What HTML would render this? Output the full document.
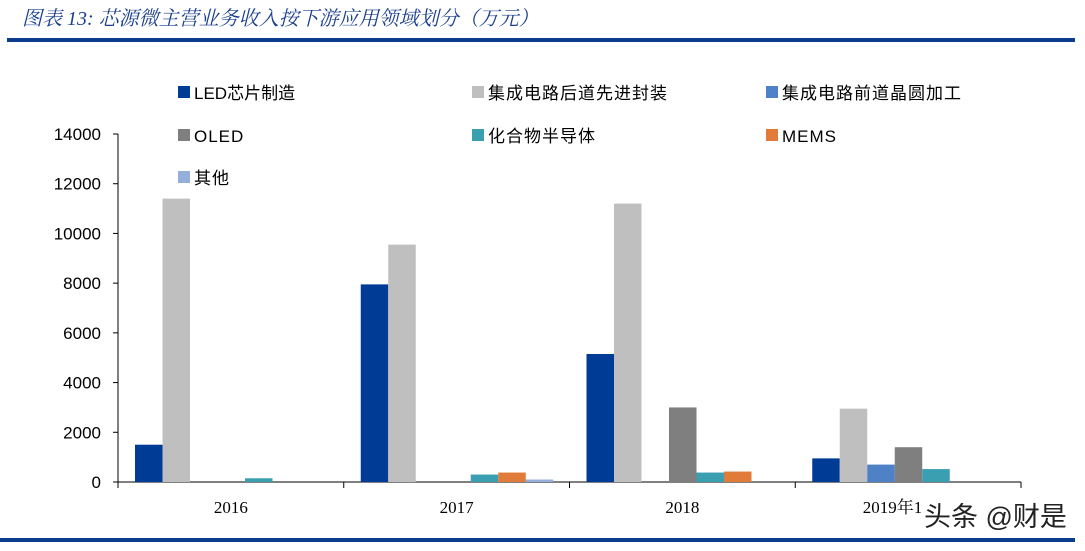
<!DOCTYPE html>
<html><head><meta charset="utf-8">
<style>
body{margin:0;background:#fff;width:1085px;height:546px;overflow:hidden;font-family:"Liberation Sans","Noto Sans CJK SC",sans-serif;}
</style></head>
<body>
<svg width="1085" height="546" xmlns="http://www.w3.org/2000/svg">
<text x="22" y="25" font-size="20" font-style="italic" fill="#1a3f8c" font-family="Liberation Serif, Noto Serif CJK SC, serif">图表 13:  芯源微主营业务收入按下游应用领域划分（万元）</text>
<rect x="7" y="38" width="1068" height="4" fill="#0b3d8f"/>
<rect x="0" y="538" width="1075" height="4" fill="#0b3d8f"/>
<g id="axes"></g>
<g id="bars"></g>
<g id="legend"></g>
<rect x="922" y="496" width="150" height="36" fill="#fff"/>
<text x="924" y="526" font-size="27" fill="#222">头条 @财是</text>
</svg>
<script>
const categories=["2016","2017","2018","2019年1-9月"];
const seriesNames=["LED芯片制造","集成电路后道先进封装","集成电路前道晶圆加工","OLED","化合物半导体","MEMS","其他"];
const colors=["#003b95","#bfbfbf","#4f81c7","#7f7f7f","#3a9fb0","#e07b39","#95aedc"];
const led=[1500,7950,5150,950];
const pkg=[11400,9550,11200,2950];
const wafer=[0,0,0,700];
const oled=[0,0,3000,1400];
const compound=[150,300,380,520];
const mems=[0,380,420,0];
const other=[0,100,0,0];
const series=[led,pkg,wafer,oled,compound,mems,other];
const yTicks=[0,2000,4000,6000,8000,10000,12000,14000];
const NS="http://www.w3.org/2000/svg";
const x0=118,x1=1021,yb=482,yt=134,ymax=14000;
const gw=(x1-x0)/categories.length,bw=27.5,off=17;
const y=v=>yb-(v/ymax)*(yb-yt);
function mk(t,a,p){const e=document.createElementNS(NS,t);for(const k in a)e.setAttribute(k,a[k]);p.appendChild(e);return e;}
const ax=document.getElementById('axes');
const yl=mk('line',{x1:x0,y1:yt,x2:x0,y2:yb,stroke:'#000'},ax);


const xl=mk('line',{x1:x0,y1:yb,x2:x1,y2:yb,stroke:'#000'},ax);


yTicks.forEach(v=>{
 mk('line',{x1:x0-5,y1:y(v),x2:x0,y2:y(v),stroke:'#000'},ax);
 const t=mk('text',{x:x0-17,y:y(v)+6,'text-anchor':'end','font-size':17,fill:'#000'},ax);
 t.textContent=v;
 
 
});
for(let i=0;i<=categories.length;i++) mk('line',{x1:x0+i*gw,y1:yb,x2:x0+i*gw,y2:yb+6,stroke:'#000'},ax);
categories.forEach((c,i)=>{
 const t=mk('text',{x:x0+gw*(i+0.5),y:513,'text-anchor':'middle','font-size':17,fill:'#000','font-family':'Liberation Serif, Noto Serif CJK SC, serif'},ax);
 t.textContent=c;
 
 
});
const bg=document.getElementById('bars');
series.forEach((s,si)=>s.forEach((v,ci)=>{
 if(!v)return;
 const r=mk('rect',{x:x0+ci*gw+off+si*bw,y:y(v),width:bw,height:yb-y(v),fill:colors[si]},bg);
 
 
}));
const lg=document.getElementById('legend');
const lpos=[[178,92],[472,92],[766,92],[178,135],[472,135],[766,135],[178,177]];
seriesNames.forEach((n,i)=>{
 const g=mk('g',{},lg);
 
 
 mk('rect',{x:lpos[i][0],y:lpos[i][1]-6,width:12,height:12,fill:colors[i]},g);
 const t=mk('text',{x:lpos[i][0]+16,y:lpos[i][1]+7,'font-size':17,fill:'#000','letter-spacing':i==0?0:1},g);
 t.textContent=n;
});
</script>
</body></html>
